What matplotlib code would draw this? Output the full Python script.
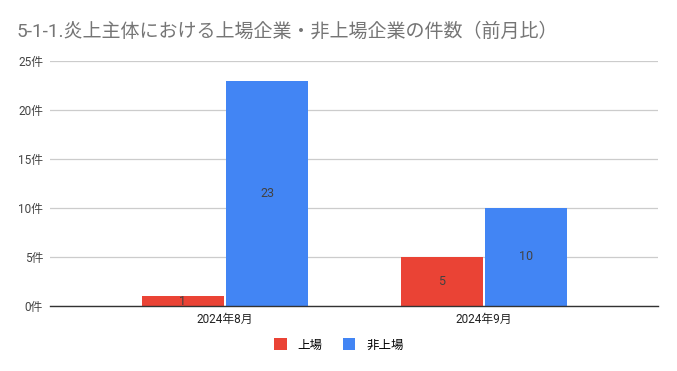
import matplotlib
matplotlib.use("Agg")
import matplotlib.pyplot as plt
import numpy as np

plt.rcParams['font.family'] = ['Roboto', 'Noto Sans CJK JP', 'DejaVu Sans']

title = "5-1-1.炎上主体における上場企業・非上場企業の件数（前月比）"
months = ["2024年8月", "2024年9月"]
listed = [1, 5]
unlisted = [23, 10]
series_names = ["上場", "非上場"]
yticks = [0, 5, 10, 15, 20, 25]

RED = "#EA4335"
BLUE = "#4285F4"

fig = plt.figure(figsize=(6.77, 3.71), dpi=100)
ax = fig.add_axes([50 / 677, 1 - 306 / 371, 608 / 677, 245 / 371])

x = np.arange(len(months))
w = 0.317
gap = 0.004
b1 = ax.bar(x - w / 2 - gap, listed, w, color=RED, label=series_names[0], zorder=3)
b2 = ax.bar(x + w / 2 + gap, unlisted, w, color=BLUE, label=series_names[1], zorder=3)

for bars, vals in ((b1, listed), (b2, unlisted)):
    for r, v in zip(bars, vals):
        ax.text(r.get_x() + r.get_width() / 2, v / 2, str(v), ha='center', va='center',
                fontsize=9, color='#424242', zorder=4)

ax.set_xlim(-0.676, 1.672)
ax.set_ylim(0, 25)
ax.set_yticks(yticks)
ax.set_yticklabels([f"{t}件" for t in yticks], fontsize=8.5, color='#444444')
ax.set_xticks(x)
ax.set_xticklabels(months, fontsize=8.5, color='#222222')
ax.tick_params(axis='both', length=0, pad=5)
ax.grid(axis='y', color='#cccccc', linewidth=0.9, zorder=0)
for s in ['top', 'right', 'left']:
    ax.spines[s].set_visible(False)
ax.spines['bottom'].set_color('#333333')
ax.spines['bottom'].set_linewidth(1.0)
ax.spines['bottom'].set_zorder(5)

fig.text(17 / 677, 1 - 32 / 371, title, fontsize=13.7, color='#757575', va='center', ha='left')

fig.legend(handles=[b1, b2], labels=series_names, loc='center', bbox_to_anchor=(339 / 677, 1 - 345 / 371),
           ncol=2, frameon=False, fontsize=9, handlelength=1.0, handleheight=1.1,
           columnspacing=1.6, handletextpad=0.9)

fig.savefig("out.png", dpi=100)
